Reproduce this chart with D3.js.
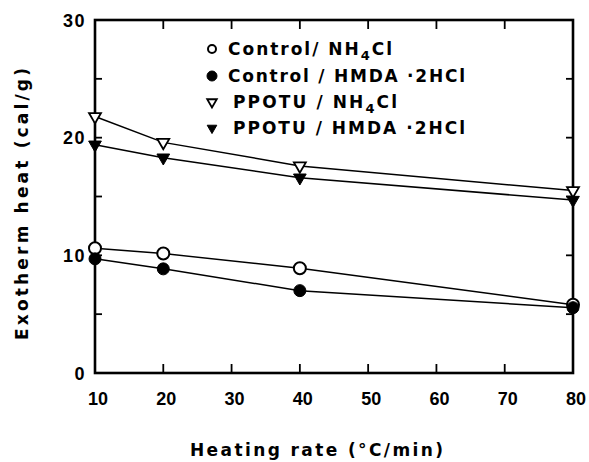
<!DOCTYPE html>
<html>
<head>
<meta charset="utf-8">
<script src="https://cdn.jsdelivr.net/npm/d3@7"></script>
<style>
  html, body { margin: 0; padding: 0; background: #fff; }
  svg { display: block; }
  text { font-family: "DejaVu Sans", sans-serif; font-weight: bold; fill: #000; }
  .tick-label { font-family: "Liberation Sans", Arial, sans-serif; font-size: 18px; }
</style>
</head>
<body>
<svg id="chart" width="589" height="462"></svg>
<script>
// Heating rate (°C/min)
const rates = [10, 20, 40, 80];

// Exotherm heat (cal/g) for each formulation
const controlNH4Cl = [10.6, 10.15, 8.9, 5.8];
const controlHMDA = [9.7, 8.85, 7.0, 5.55];
const ppotuNH4Cl = [21.8, 19.6, 17.6, 15.5];
const ppotuHMDA = [19.4, 18.3, 16.6, 14.7];

const xTickValues = [10, 20, 30, 40, 50, 60, 70, 80];
const yTickValues = [0, 10, 20, 30];
const yMinorTicks = [5, 10, 15, 20, 25];
const xInnerTicks = [20, 30, 40, 50, 60, 70];

const seriesList = [
  { name: "controlNH4Cl", values: controlNH4Cl, shape: "circle", filled: false },
  { name: "controlHMDA", values: controlHMDA, shape: "circle", filled: true },
  { name: "ppotuNH4Cl", values: ppotuNH4Cl, shape: "triangle", filled: false },
  { name: "ppotuHMDA", values: ppotuHMDA, shape: "triangle", filled: true }
];

const svg = d3.select("#chart");
const plot = { left: 95, right: 573, top: 20, bottom: 373 };

const x = d3.scaleLinear().domain([10, 80]).range([plot.left, plot.right]);
const y = d3.scaleLinear().domain([0, 30]).range([plot.bottom, plot.top]);

// Inward minor ticks on all four sides
const tickLen = 7;
svg.append("g").selectAll("line").data(yMinorTicks).join("line")
  .attr("x1", plot.left).attr("x2", plot.left + tickLen)
  .attr("y1", d => y(d)).attr("y2", d => y(d))
  .attr("stroke", "#000").attr("stroke-width", 1.8);
svg.append("g").selectAll("line").data(yMinorTicks).join("line")
  .attr("x1", plot.right).attr("x2", plot.right - tickLen)
  .attr("y1", d => y(d)).attr("y2", d => y(d))
  .attr("stroke", "#000").attr("stroke-width", 1.8);
svg.append("g").selectAll("line").data(xInnerTicks).join("line")
  .attr("x1", d => x(d)).attr("x2", d => x(d))
  .attr("y1", plot.bottom).attr("y2", plot.bottom - 9)
  .attr("stroke", "#000").attr("stroke-width", 1.8);
svg.append("g").selectAll("line").data(xInnerTicks).join("line")
  .attr("x1", d => x(d)).attr("x2", d => x(d))
  .attr("y1", plot.top).attr("y2", plot.top + 9)
  .attr("stroke", "#000").attr("stroke-width", 1.8);

// Frame
svg.append("rect")
  .attr("x", plot.left).attr("y", plot.top)
  .attr("width", plot.right - plot.left).attr("height", plot.bottom - plot.top)
  .attr("fill", "none").attr("stroke", "#000").attr("stroke-width", 2.6);

// Tick labels
svg.append("g").selectAll("text").data(yTickValues).join("text")
  .attr("class", "tick-label")
  .attr("x", plot.left - 9).attr("y", d => y(d) + 6.5)
  .attr("text-anchor", "end")
  .attr("letter-spacing", "1.5")
  .text(d => d);
svg.append("g").selectAll("text").data(xTickValues).join("text")
  .attr("class", "tick-label")
  .attr("x", d => x(d) + 3).attr("y", 405)
  .attr("text-anchor", "middle")
  .text(d => d);

// Axis titles
svg.append("text")
  .attr("x", 190).attr("y", 456)
  .attr("font-size", 17)
  .attr("textLength", 253).attr("lengthAdjust", "spacing")
  .text("Heating rate (°C/min)");
svg.append("text")
  .attr("transform", "translate(28,204) rotate(-90)")
  .attr("text-anchor", "middle")
  .attr("font-size", 17)
  .attr("textLength", 272).attr("lengthAdjust", "spacing")
  .text("Exotherm heat (cal/g)");

// Series lines
const line = d3.line().x((d, i) => x(rates[i])).y(d => y(d));
svg.append("g").selectAll("path").data(seriesList).join("path")
  .attr("d", s => line(s.values))
  .attr("fill", "none").attr("stroke", "#000").attr("stroke-width", 1.5);

// Markers: circles take a radius, downward triangles a symbol area
const triSym = d3.symbol().type(d3.symbolTriangle);
function drawMarker(g, shape, filled, cx, cy, size) {
  if (shape === "circle") {
    g.append("circle").attr("cx", cx).attr("cy", cy).attr("r", size)
      .attr("fill", filled ? "#000" : "#fff")
      .attr("stroke", "#000").attr("stroke-width", filled ? 1 : 2);
  } else {
    g.append("path")
      .attr("d", triSym.size(size)())
      .attr("transform", `translate(${cx},${cy}) rotate(180)`)
      .attr("fill", filled ? "#000" : "#fff")
      .attr("stroke", "#000").attr("stroke-width", filled ? 1 : 1.8);
  }
}
const markerG = svg.append("g");
seriesList.forEach(s => {
  s.values.forEach((v, i) => {
    const size = s.shape === "circle" ? 6 : (s.filled ? 70 : 62);
    drawMarker(markerG, s.shape, s.filled, x(rates[i]), y(v), size);
  });
});

// Legend
const legendRows = [
  { series: seriesList[0], parts: ["Control/ NH", "4", "Cl"], tx: 228, len: 164 },
  { series: seriesList[1], parts: ["Control / HMDA ·2HCl"], tx: 228, len: 237 },
  { series: seriesList[2], parts: ["PPOTU / NH", "4", "Cl"], tx: 233, len: 164 },
  { series: seriesList[3], parts: ["PPOTU / HMDA ·2HCl"], tx: 233, len: 232 }
];
const legendBaselines = [55, 82, 108, 134];
const legend = svg.append("g");
legendRows.forEach((row, i) => {
  const by = legendBaselines[i];
  const s = row.series;
  drawMarker(legend, s.shape, s.filled, 212, by - 6,
    s.shape === "circle" ? (s.filled ? 5 : 4) : 40);
  const t = legend.append("text")
    .attr("x", row.tx).attr("y", by)
    .attr("font-size", 17)
    .attr("textLength", row.len).attr("lengthAdjust", "spacing");
  if (row.parts.length === 1) {
    t.text(row.parts[0]);
  } else {
    t.append("tspan").text(row.parts[0]);
    t.append("tspan").attr("dy", 5).attr("font-size", 13).text(row.parts[1]);
    t.append("tspan").attr("dy", -5).text(row.parts[2]);
  }
});
</script>
</body>
</html>
